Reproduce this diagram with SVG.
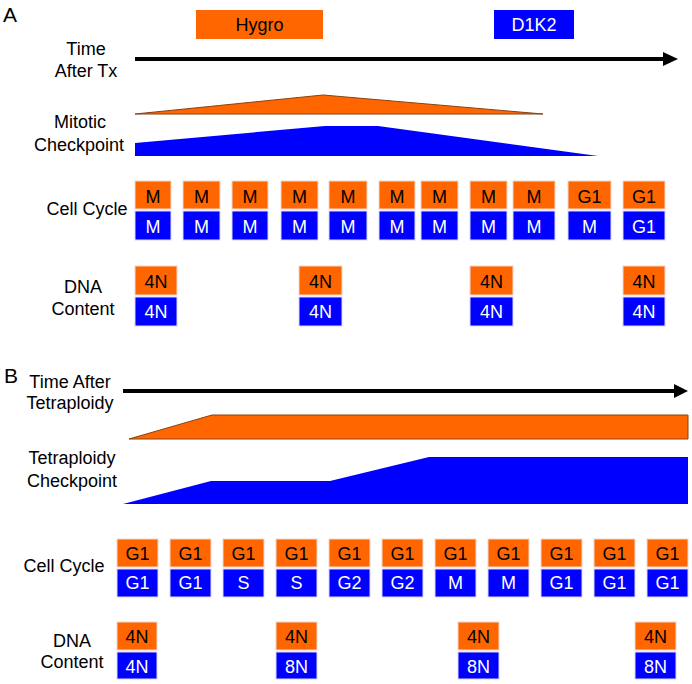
<svg xmlns="http://www.w3.org/2000/svg" width="692" height="684" viewBox="0 0 692 684">
<style>
text{font-family:"Liberation Sans",Arial,sans-serif}
.lbl{font-size:18px;fill:#000;text-anchor:middle}
.pl{font-size:21px;fill:#000}
.o{fill:#FF6600;stroke:#f0d8d0;stroke-width:1}
.b{fill:#0000FF;stroke:#d8d8f8;stroke-width:1}
.to{font-size:18px;fill:#000;text-anchor:middle}
.tb{font-size:18px;fill:#fff;text-anchor:middle}
.ora{fill:#FF6600;stroke:#8a4010;stroke-width:1}
.blu{fill:#0000FF}
</style>
<rect width="692" height="684" fill="#fff"/>
<g id="labels">
<text class="pl" x="3" y="22">A</text>
<text class="pl" x="4" y="383">B</text>
<text class="lbl" x="86" y="55">Time</text>
<text class="lbl" x="86" y="77">After Tx</text>
<text class="lbl" x="80" y="128">Mitotic</text>
<text class="lbl" x="79" y="151">Checkpoint</text>
<text class="lbl" x="87" y="215">Cell Cycle</text>
<text class="lbl" x="83" y="293">DNA</text>
<text class="lbl" x="83" y="315">Content</text>
<text class="lbl" x="70" y="388">Time After</text>
<text class="lbl" x="70" y="409">Tetraploidy</text>
<text class="lbl" x="72" y="464">Tetraploidy</text>
<text class="lbl" x="72" y="487">Checkpoint</text>
<text class="lbl" x="64" y="572">Cell Cycle</text>
<text class="lbl" x="72" y="647">DNA</text>
<text class="lbl" x="72" y="668">Content</text>
</g>
<g id="treatments">
<g id="hygro"><rect x="196" y="10" width="127" height="29" fill="#FF6600"/><text class="to" x="259.5" y="31">Hygro</text></g>
<g id="d1k2"><rect x="494" y="10" width="80" height="29" fill="#0000FF"/><text class="tb" x="534" y="31">D1K2</text></g>
</g>
<g id="connectors">
<line x1="135" y1="59" x2="666" y2="59" stroke="#000" stroke-width="4"/>
<polygon points="663,52 678,59 663,66" fill="#000"/>
<line x1="123" y1="391" x2="676" y2="391" stroke="#000" stroke-width="4"/>
<polygon points="674,384 688,391 674,398" fill="#000"/>
</g>
<g id="profiles">
<polygon class="ora" points="135,114 323,95 543,114"/>
<polygon class="blu" points="135,143 325,126 378,126 598,156 135,156"/>
<polygon class="ora" points="129,439 212,415 688,415 688,439"/>
<polygon class="blu" points="123,504 211,481 330,481 429,457 688,457 688,504"/>
</g>
<g id="cellcycleA">
<g id="ccA1"><rect class="o" x="135" y="181" width="36" height="28"/><rect class="b" x="135" y="211" width="36" height="29"/><text class="to" x="153" y="203">M</text><text class="tb" x="153" y="233">M</text></g>
<g id="ccA2"><rect class="o" x="183" y="181" width="37" height="28"/><rect class="b" x="183" y="211" width="37" height="29"/><text class="to" x="201.5" y="203">M</text><text class="tb" x="201.5" y="233">M</text></g>
<g id="ccA3"><rect class="o" x="232" y="181" width="36" height="28"/><rect class="b" x="232" y="211" width="36" height="29"/><text class="to" x="250" y="203">M</text><text class="tb" x="250" y="233">M</text></g>
<g id="ccA4"><rect class="o" x="281" y="181" width="37" height="28"/><rect class="b" x="281" y="211" width="37" height="29"/><text class="to" x="299.5" y="203">M</text><text class="tb" x="299.5" y="233">M</text></g>
<g id="ccA5"><rect class="o" x="329" y="181" width="38" height="28"/><rect class="b" x="329" y="211" width="38" height="29"/><text class="to" x="348" y="203">M</text><text class="tb" x="348" y="233">M</text></g>
<g id="ccA6"><rect class="o" x="379" y="181" width="36" height="28"/><rect class="b" x="379" y="211" width="36" height="29"/><text class="to" x="397" y="203">M</text><text class="tb" x="397" y="233">M</text></g>
<g id="ccA7"><rect class="o" x="421" y="181" width="37" height="28"/><rect class="b" x="421" y="211" width="37" height="29"/><text class="to" x="439.5" y="203">M</text><text class="tb" x="439.5" y="233">M</text></g>
<g id="ccA8"><rect class="o" x="470" y="181" width="37" height="28"/><rect class="b" x="470" y="211" width="37" height="29"/><text class="to" x="488.5" y="203">M</text><text class="tb" x="488.5" y="233">M</text></g>
<g id="ccA9"><rect class="o" x="513" y="181" width="42" height="28"/><rect class="b" x="513" y="211" width="42" height="29"/><text class="to" x="534" y="203">M</text><text class="tb" x="534" y="233">M</text></g>
<g id="ccA10"><rect class="o" x="568" y="181" width="43" height="28"/><rect class="b" x="568" y="211" width="43" height="29"/><text class="to" x="589.5" y="203">G1</text><text class="tb" x="589.5" y="233">M</text></g>
<g id="ccA11"><rect class="o" x="623" y="181" width="42" height="28"/><rect class="b" x="623" y="211" width="42" height="29"/><text class="to" x="644" y="203">G1</text><text class="tb" x="644" y="233">G1</text></g>
</g>
<g id="dnaA">
<g id="dnaA1"><rect class="o" x="135" y="266" width="42" height="29"/><rect class="b" x="135" y="297" width="42" height="29"/><text class="to" x="156" y="288">4N</text><text class="tb" x="156" y="318">4N</text></g>
<g id="dnaA2"><rect class="o" x="299" y="266" width="43" height="29"/><rect class="b" x="299" y="297" width="43" height="29"/><text class="to" x="320.5" y="288">4N</text><text class="tb" x="320.5" y="318">4N</text></g>
<g id="dnaA3"><rect class="o" x="470" y="266" width="43" height="29"/><rect class="b" x="470" y="297" width="43" height="29"/><text class="to" x="491.5" y="288">4N</text><text class="tb" x="491.5" y="318">4N</text></g>
<g id="dnaA4"><rect class="o" x="623" y="266" width="42" height="29"/><rect class="b" x="623" y="297" width="42" height="29"/><text class="to" x="644" y="288">4N</text><text class="tb" x="644" y="318">4N</text></g>
</g>
<g id="cellcycleB">
<g id="ccB1"><rect class="o" x="117" y="539" width="41" height="28"/><rect class="b" x="117" y="569" width="41" height="28"/><text class="to" x="137.5" y="560">G1</text><text class="tb" x="137.5" y="589">G1</text></g>
<g id="ccB2"><rect class="o" x="170" y="539" width="41" height="28"/><rect class="b" x="170" y="569" width="41" height="28"/><text class="to" x="190.5" y="560">G1</text><text class="tb" x="190.5" y="589">G1</text></g>
<g id="ccB3"><rect class="o" x="223" y="539" width="41" height="28"/><rect class="b" x="223" y="569" width="41" height="28"/><text class="to" x="243.5" y="560">G1</text><text class="tb" x="243.5" y="589">S</text></g>
<g id="ccB4"><rect class="o" x="276" y="539" width="41" height="28"/><rect class="b" x="276" y="569" width="41" height="28"/><text class="to" x="296.5" y="560">G1</text><text class="tb" x="296.5" y="589">S</text></g>
<g id="ccB5"><rect class="o" x="329" y="539" width="41" height="28"/><rect class="b" x="329" y="569" width="41" height="28"/><text class="to" x="349.5" y="560">G1</text><text class="tb" x="349.5" y="589">G2</text></g>
<g id="ccB6"><rect class="o" x="382" y="539" width="41" height="28"/><rect class="b" x="382" y="569" width="41" height="28"/><text class="to" x="402.5" y="560">G1</text><text class="tb" x="402.5" y="589">G2</text></g>
<g id="ccB7"><rect class="o" x="435" y="539" width="41" height="28"/><rect class="b" x="435" y="569" width="41" height="28"/><text class="to" x="455.5" y="560">G1</text><text class="tb" x="455.5" y="589">M</text></g>
<g id="ccB8"><rect class="o" x="488" y="539" width="41" height="28"/><rect class="b" x="488" y="569" width="41" height="28"/><text class="to" x="508.5" y="560">G1</text><text class="tb" x="508.5" y="589">M</text></g>
<g id="ccB9"><rect class="o" x="541" y="539" width="41" height="28"/><rect class="b" x="541" y="569" width="41" height="28"/><text class="to" x="561.5" y="560">G1</text><text class="tb" x="561.5" y="589">G1</text></g>
<g id="ccB10"><rect class="o" x="594" y="539" width="41" height="28"/><rect class="b" x="594" y="569" width="41" height="28"/><text class="to" x="614.5" y="560">G1</text><text class="tb" x="614.5" y="589">G1</text></g>
<g id="ccB11"><rect class="o" x="647" y="539" width="41" height="28"/><rect class="b" x="647" y="569" width="41" height="28"/><text class="to" x="667.5" y="560">G1</text><text class="tb" x="667.5" y="589">G1</text></g>
</g>
<g id="dnaB">
<g id="dnaB1"><rect class="o" x="117" y="622" width="40" height="28"/><rect class="b" x="117" y="652" width="40" height="27"/><text class="to" x="137" y="643">4N</text><text class="tb" x="137" y="673">4N</text></g>
<g id="dnaB2"><rect class="o" x="276" y="622" width="41" height="28"/><rect class="b" x="276" y="652" width="41" height="27"/><text class="to" x="296.5" y="643">4N</text><text class="tb" x="296.5" y="673">8N</text></g>
<g id="dnaB3"><rect class="o" x="458" y="622" width="41" height="28"/><rect class="b" x="458" y="652" width="41" height="27"/><text class="to" x="478.5" y="643">4N</text><text class="tb" x="478.5" y="673">8N</text></g>
<g id="dnaB4"><rect class="o" x="635" y="622" width="41" height="28"/><rect class="b" x="635" y="652" width="41" height="27"/><text class="to" x="655.5" y="643">4N</text><text class="tb" x="655.5" y="673">8N</text></g>
</g>
</svg>
